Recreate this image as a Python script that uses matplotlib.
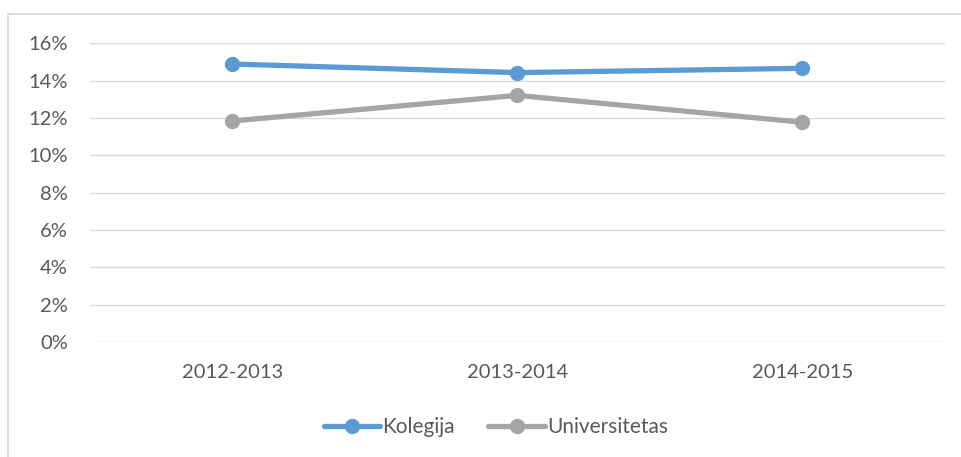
import matplotlib.pyplot as plt
from matplotlib.patches import Rectangle
from matplotlib.ticker import PercentFormatter

plt.rcParams['font.family'] = ['Lato', 'DejaVu Sans']

years = ['2012-2013', '2013-2014', '2014-2015']
kolegija = [0.1489, 0.1443, 0.1466]
universitetas = [0.1184, 0.1321, 0.1177]

blue = '#5B9BD5'
grey = '#A5A5A5'
text_col = '#595959'

fig = plt.figure(figsize=(9.62, 4.57), dpi=100)
# chart border (box continues past the right/bottom edge)
fig.patches.append(Rectangle((8 / 962, -0.1), 1.2, 1 - 14 / 457 + 0.1,
                             transform=fig.transFigure, fill=False,
                             edgecolor='#D9D9D9', linewidth=1.2))

ax = fig.add_axes([90 / 962, 1 - 342 / 457, (945 - 90) / 962, (342 - 43.3) / 457])

x = range(len(years))
ax.plot(x, kolegija, color=blue, lw=3.8, marker='o', ms=10, label='Kolegija',
        solid_capstyle='round')
ax.plot(x, universitetas, color=grey, lw=3.8, marker='o', ms=10, label='Universitetas',
        solid_capstyle='round')

ax.set_xlim(-0.5, 2.5)
ax.set_ylim(0, 0.16)
ax.set_yticks([i / 100 for i in range(0, 17, 2)])
ax.yaxis.set_major_formatter(PercentFormatter(1.0, decimals=0))
ax.set_xticks(list(x))
ax.set_xticklabels(years)
ax.grid(axis='y', color='#D9D9D9', lw=1)
ax.set_axisbelow(True)
for s in ax.spines.values():
    s.set_visible(False)
ax.tick_params(length=0, labelsize=14.5, colors=text_col)
ax.tick_params(axis='x', pad=16)
ax.tick_params(axis='y', pad=16)

leg = fig.legend(loc='center', bbox_to_anchor=(496 / 962, 1 - 427 / 457), ncol=2,
                 frameon=False, fontsize=15, handlelength=2.7, handletextpad=0.1,
                 columnspacing=1.6)
for t in leg.get_texts():
    t.set_color(text_col)

fig.savefig('out.png', dpi=100)
